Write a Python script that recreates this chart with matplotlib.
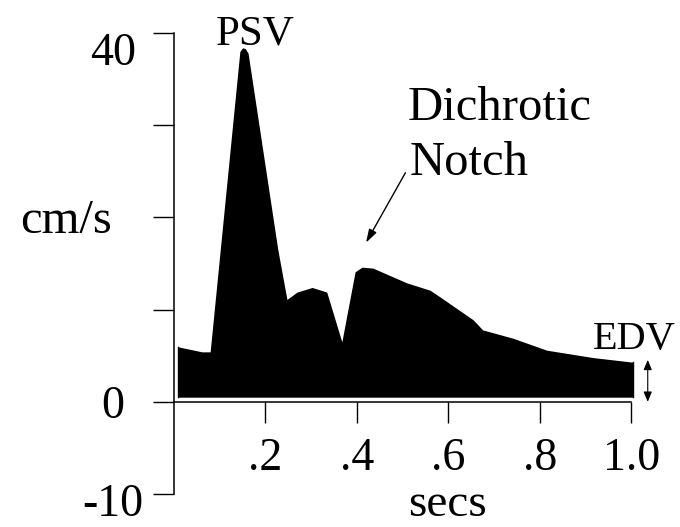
import matplotlib.pyplot as plt

# velocity waveform (secs, cm/s)
t_sec = [0.009, 0.061, 0.079, 0.144, 0.150, 0.156, 0.162, 0.227, 0.247, 0.269,
         0.302, 0.334, 0.367, 0.396, 0.411, 0.435, 0.509, 0.560, 0.581, 0.654,
         0.675, 0.741, 0.815, 0.916, 1.003]
vel = [5.96, 5.42, 5.42, 38.0, 38.4, 38.3, 37.8, 16.5, 11.1, 11.9,
       12.4, 11.9, 6.5, 14.1, 14.6, 14.5, 12.9, 12.1, 11.4, 8.9,
       7.8, 6.9, 5.6, 4.8, 4.3]
base = 0.5

xticks = [0.2, 0.4, 0.6, 0.8, 1.0]
xlabels = ['.2', '.4', '.6', '.8', '1.0']
yticks = [-10, 0, 10, 20, 30, 40]
ylabels = ['', '0', '', '', '', '40']

plt.rcParams['font.family'] = 'Liberation Serif'
fs = 33

fig = plt.figure(figsize=(6.8, 5.27), dpi=100)
ax = fig.add_axes([0.2559, 0.0626, 0.7397, 0.8748])

ax.fill_between(t_sec, vel, base, color='black', lw=0)
ax.plot([t_sec[0], t_sec[0]], [base, vel[0]], color='black', lw=1)
ax.plot([t_sec[-1], t_sec[-1]], [base, vel[-1]], color='black', lw=1)

ax.set_xlim(0, 1.1)
ax.set_ylim(-10, 40)

for s in ['top', 'right']:
    ax.spines[s].set_visible(False)
ax.spines['bottom'].set_position(('data', 0))
ax.spines['bottom'].set_bounds(0, 1.0)
ax.spines['left'].set_bounds(-10, 40)
ax.spines['left'].set_linewidth(1.1)
ax.spines['bottom'].set_linewidth(1.1)

ax.set_xticks(xticks)
ax.set_xticklabels(xlabels)
ax.set_yticks(yticks)
ax.set_yticklabels(ylabels)
ax.tick_params(axis='x', direction='out', length=15, width=1, pad=11, labelsize=fs)
ax.tick_params(axis='y', direction='out', length=15, width=1, pad=29, labelsize=fs)
for lab in ax.get_yticklabels():
    lab.set_ha('center')
    if lab.get_text() == '40':
        lab.set_va('top')

# -10 label sits low, near the bottom edge
ax.text(-0.134, -13.5, '-10', ha='center', va='bottom', fontsize=fs, clip_on=False)
ax.text(-0.236, 18.3, 'cm/s', ha='center', va='baseline', fontsize=35, clip_on=False)
ax.text(0.599, -13.5, 'secs', ha='center', va='bottom', fontsize=34, clip_on=False)
ax.text(0.177, 38.7, 'PSV', ha='center', va='baseline', fontsize=31, clip_on=False)
ax.text(1.097, 5.75, 'EDV', ha='right', va='baseline', fontsize=29, clip_on=False)
ax.text(0.511, 30.6, 'Dichrotic', ha='left', va='baseline', fontsize=35)
ax.text(0.516, 24.6, 'Notch', ha='left', va='baseline', fontsize=35)

ax.annotate('', xy=(0.417, 17.0), xytext=(0.509, 25.1),
            arrowprops=dict(arrowstyle='-|>,head_length=0.8,head_width=0.25',
                            color='black', lw=1))
ax.annotate('', xy=(1.036, 0.0), xytext=(1.036, 4.55),
            arrowprops=dict(arrowstyle='<|-|>,head_length=0.6,head_width=0.25',
                            color='black', lw=0.8, shrinkA=0, shrinkB=0),
            annotation_clip=False)

fig.savefig('out.png', dpi=100)
